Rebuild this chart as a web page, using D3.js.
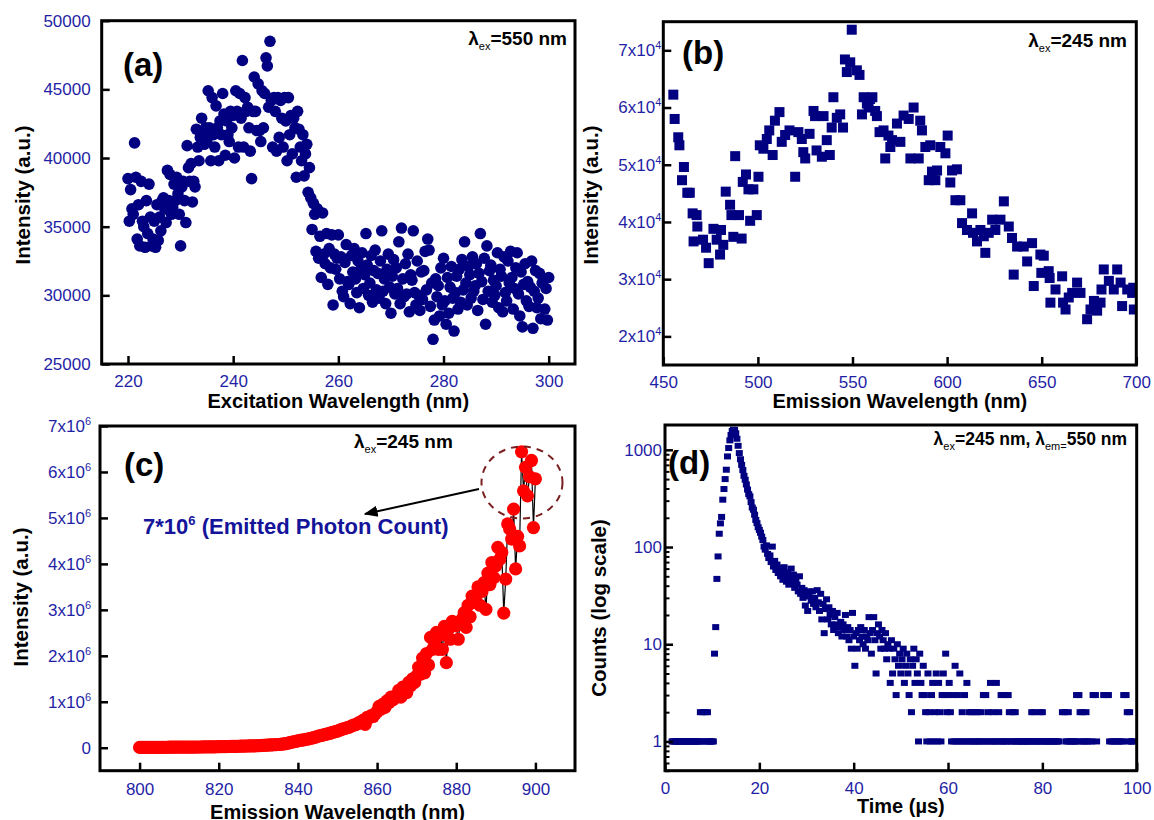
<!DOCTYPE html>
<html><head><meta charset="utf-8">
<script src="https://cdn.jsdelivr.net/npm/d3@7"></script>
<style>
body{margin:0;background:#fff}
svg{display:block}
text{font-family:"Liberation Sans",Arial,sans-serif}
</style>
</head><body>
<svg id="chart" width="1154" height="820"></svg>
<script>
// ---------------- DATA ----------------
// (a) excitation spectrum, 220–300 nm, 0.25 nm sampling
const aWavelength = d3.range(220, 300.001, 0.25);
const aIntensity = [
38500,35400,37700,36300, 35900,41100,38600,34100, 36600,33600,38300,35400, 35000,33500,36900,34500,
38100,35700,33600,34100, 35400,33500,36600,34000, 35700,34700,36900,37100, 36300,35300,39100,36900,
38800,35900,36400,38100, 36900,38600,37400,35900, 33600,37900,38300,36900, 35300,40900,39300,38300,
39600,36800,38300,37900, 42100,40800,39800,41500, 42900,41700,41000,42200, 41200,44900,42200,39800,
44400,41700,40800,43800, 42200,39800,42700,41700, 44700,43200,40200,42700, 41700,41200,43400,42200,
43100,40000,44900,43400, 40800,44700,42900,47100, 40800,44400,43400,43700, 42200,40500,38500,43400,
45900,43400,42000,45400, 42000,41200,44900,42200, 44700,47300,46700,43700, 48500,44200,40800,44400,
43400,40500,44400,41500, 44200,42900,40800,44400, 42700,39800,44400,41700, 43100,40300,42900,42200,
38600,43400,42100,40800, 39800,41700,38700,40300, 41000,37500,39300,37100, 34800,36700,35900,33200,
36300,32700,34300,31300, 36000,33000,32300,34500, 30800,33400,32000,34400, 29300,33000,31900,32700,
34400,31200,32800,30300, 29900,32400,33700,31000, 30800,29400,32900,31700, 33400,31200,30200,32500,
29100,31900,33100,30500, 31500,34500,32200,30000, 30900,32900,29500,31800, 33300,30400,31600,29800,
32500,34700,30300,31200, 29400,31900,33000,30600, 28700,31400,32600,30100, 32000,30500,33900,29400,
34900,31200,29900,32300, 30100,33000,28800,31500, 31100,34700,30200,29300, 32500,30000,28900,31700,
29700,31800,33200,30400, 34100,33300,29200,30900, 26800,28200,31200,29900, 30700,28500,32000,29300,
32700,29600,27900,31300, 28700,30600,32100,29800, 27400,30200,31400,29000, 31900,29500,32600,30400,
33900,30900,29300,32100, 31500,29800,32800,30300, 30700,32300,28900,31600, 34500,31000,29700,32700,
27900,33600,30300,31800, 32200,29500,31100,30000, 30700,33100,29100,31900, 31400,28800,32800,30200,
29600,32500,30900,33200, 31300,29000,30500,32000, 33100,30100,28500,31700, 27700,30800,32300,29600,
31000,29200,30600,32500, 27600,30300,31800,29100, 29800,31600,28300,30900, 31200,29000,30500,28200,
31300];
const aXTicks = [220, 240, 260, 280, 300];
const aYTicks = [25000, 30000, 35000, 40000, 45000, 50000];

// (b) emission spectrum [wavelength nm, intensity]
const bSpectrum = [
[455.3,62250],[456,58000],[457.9,54800],[458.5,53400],[459.9,47300],[460.9,49600],[462.7,45100],[464,45100],
[465.5,41500],[466,36600],[467.6,41200],[468,39200],[471,36900],[472.6,35500],[474,32800],[476.5,38800],
[478.2,36900],[480,34300],[480.5,38600],[481.7,36000],[483,45300],[485.3,43000],[486,41200],[487,37400],
[488,51500],[490,41200],[491.4,37100],[492,47000],[493.7,48300],[495,45700],[495.9,40200],[497.6,45700],
[499.4,41200],[500.3,47900],[501,53400],[502.9,52800],[504.7,54500],[506,56000],[507.8,51700],[509,57700],
[511.4,59200],[512.6,54000],[514.4,55200],[516.7,56000],[519.7,47900],[521.4,55700],[523.2,54500],[524,52200],
[525,51100],[527.3,55400],[529.4,59400],[530.2,58500],[531,52500],[533.8,51400],[534.7,58500],[536.4,54300],
[538,51700],[539,56500],[539.9,61800],[541.7,58200],[543.5,58800],[545,56500],[546,68400],[547,66200],
[548.8,67900],[549.6,73600],[552.3,66500],[553.7,65700],[555,58800],[555.9,61800],[557.6,60700],[558.5,60000],
[559.3,61500],[560.5,61800],[562,59400],[562.9,58500],[564.3,55700],[566.4,56000],[567.3,51100],[569,55100],
[570,53100],[570.9,54300],[573.5,57200],[575.3,54000],[577,58600],[579.7,58000],[580.6,51100],[582.3,60000],
[585,51100],[585.8,57700],[586.7,56000],[588.5,53100],[590.3,47300],[591.1,53400],[592,48800],[593.8,47300],
[594.7,49000],[596.4,53100],[599.1,52000],[600.3,55100],[601.7,46900],[602.6,49000],[604.4,43800],[605.2,49200],
[607,43800],[607.9,39800],[610.5,38600],[613.2,41500],[613.7,38100],[615.8,36600],[617.6,38600],[619.4,37500],
[620.2,34600],[622,38100],[623.8,40400],[625.5,38600],[628.2,40400],[630,43600],[632.6,39200],[634.3,37200],
[635.2,30800],[637,35700],[640.5,35700],[642.3,33100],[644.9,36300],[645.8,28800],[649.3,34300],[649.8,31100],
[651.1,34100],[653.7,31400],[654.2,30200],[654.6,25900],[657.3,28200],[660.8,30500],[661.3,25900],[662.6,24700],
[664.3,26800],[666.1,27600],[668.7,29400],[670.5,27600],[674,23000],[675.8,24700],[677.6,26200],[679.3,24500],
[681.1,25900],[681.6,28200],[682.8,31700],[685.5,29700],[688.1,28200],[689.9,31700],[691.7,29400],[692.5,25300],
[695.2,28200],[697.8,27600],[698.4,28500],[698.7,24700]];
const bXTicks = [450, 500, 550, 600, 650, 700];
const bYTicks = [20000, 30000, 40000, 50000, 60000, 70000];

// (c) emission 800–900 nm, 0.5 nm sampling, intensity in units of 10^6
const cWavelength = d3.range(800, 900.001, 0.5);
const cIntensity = [
0.006,0.006,0.007,0.007,0.007,0.008,0.008,0.008,0.008,0.009,
0.009,0.009,0.010,0.010,0.010,0.011,0.011,0.011,0.012,0.012,
0.012,0.012,0.013,0.013,0.014,0.014,0.014,0.015,0.015,0.016,
0.016,0.016,0.017,0.017,0.018,0.018,0.019,0.020,0.020,0.021,
0.022,0.023,0.024,0.025,0.026,0.027,0.028,0.029,0.030,0.031,
0.032,0.033,0.034,0.036,0.037,0.038,0.039,0.040,0.042,0.043,
0.045,0.047,0.050,0.052,0.055,0.057,0.060,0.062,0.065,0.068,
0.070,0.075,0.080,0.085,0.090,0.100,0.110,0.120,0.130,0.140,
0.150,0.160,0.165,0.170,0.180,0.190,0.200,0.210,0.220,0.230,
0.250,0.260,0.270,0.280,0.290,0.300,0.310,0.330,0.340,0.350,
0.360,0.380,0.400,0.410,0.420,0.440,0.450,0.470,0.490,0.500,
0.520,0.550,0.540,0.600,0.510,0.660,0.650,0.700,0.680,0.740,
0.780,0.900,0.840,0.950,0.880,1.020,0.980,1.100,1.040,1.120,
1.130,1.250,1.100,1.320,1.270,1.200,1.420,1.350,1.500,1.420,
1.560,1.750,1.600,1.950,1.630,2.050,1.800,2.400,2.140,2.300,
2.510,2.140,2.450,2.140,2.640,1.850,2.580,2.360,2.750,2.720,
2.650,2.360,2.700,2.800,2.940,2.620,3.100,2.850,3.300,3.160,
3.300,3.500,3.100,3.400,3.590,3.010,3.800,3.550,4.030,3.700,
3.960,4.360,4.100,4.250,2.930,3.670,4.870,4.760,4.540,5.190,
3.890,4.600,4.390,6.440,5.590,6.100,5.480,5.900,6.250,4.790,
5.850];
const cXTicks = [800, 820, 840, 860, 880, 900];
const cYTicks = [0, 1, 2, 3, 4, 5, 6, 7];

// (d) decay, 1.5–99.5 µs, 0.25 µs channels (0 = empty channel)
const dTime = d3.range(1.5, 99.51, 0.25);
const dCounts = [
1,1,
1,1,1,1, 1,1,1,1, 1,1,1,1, 1,1,1,1, 1,1,1,1, 1,1,2,1, 2,1,2,1, 2,1,1,1,
1,1,8,15, 47,80,137,175, 204,307,395,500, 624,855,1043,1250, 1420,1560,1610,1600,
1480,1300,1100,925, 800,700,620,540, 492,440,390,350, 332,290,255,242, 215,190,176,160,
150,140,128,118, 101,94,104,85, 77,82,70,101, 63,72,58,66, 54,61,50,57,
46,62,50,44, 55,41,48,60, 43,52,38,46, 41,35,50,33, 38,30,36,25,
34,22,31,35, 28,35,26,30, 24,36,27,22, 33,18,26,13, 23,29,18,24,
20,16,22,14, 19,16,21,13, 15,17,12,16, 14,20,12,15, 11,14,9,21,
12,6,13,9, 14,11,15,12, 10,14,9,12, 11,19,13,8, 14,19,11,5,
13,16,12,9, 14,11,9,13, 7,10,9,4, 11,5,9,7, 3,10,6,8,
5,7,9,4, 6,8,5,3, 7,2,6,9, 4,7,5,1, 8,4,3,6,
3,2,1,5, 2,1,3,4, 1,2,5,1, 4,2,1,3, 5,3,8,2,
3,4,2,1, 3,1,6,1, 3,1,5,1, 2,1,3,1, 4,1,2,1,
2,1,1,2, 1,2,1,1, 2,1,3,1, 3,1,2,1, 4,1,2,1,
1,4,1,2, 1,3,1,1, 3,1,1,3, 2,1,1,2, 1,2,1,1,
1,0,1,1, 1,1,0,1, 1,1,1,2, 1,2,1,1, 1,1,2,1,
2,1,1,1, 1,0,1,1, 1,1,0,1, 1,1,1,0, 0,2,0,2,
1,1,2,1, 1,0,1,1, 1,3,1,3, 2,1,2,1, 1,2,1,0,
1,0,1,3, 0,3,1,0, 0,0,0,0, 3,0,3,0, 3,1,0,1,
1,0,1,0, 1,1,0,1, 1,3,0,3, 2,1,2,1,
1,1,0];
const dXTicks = [0, 20, 40, 60, 80, 100];
const dYTicks = [1, 10, 100, 1000];

// ---------------- DRAWING ----------------
const TICK_COLOR = '#1f1fa6';
const NAVY = '#000080';
const svg = d3.select('#chart');
const defs = svg.append('defs');
defs.append('marker').attr('id','arrow').attr('viewBox','0 0 10 10').attr('refX',9).attr('refY',5)
  .attr('markerWidth',7).attr('markerHeight',7).attr('orient','auto-start-reverse')
  .append('path').attr('d','M0,1 L10,5 L0,9 z').attr('fill','#000');

const P = {
  a:{x0:101.7,x1:575,y0:20.7,y1:364},
  b:{x0:663.3,x1:1136.3,y0:21.7,y1:365},
  c:{x0:100,x1:575,y0:426,y1:770.7},
  d:{x0:665,x1:1136.7,y0:425,y1:770.7}
};

function clip(id, p){
  defs.append('clipPath').attr('id',id).append('rect')
    .attr('x',p.x0).attr('y',p.y0).attr('width',p.x1-p.x0).attr('height',p.y1-p.y0);
}
function styleAxis(g){
  g.select('.domain').remove();
  g.attr('color',TICK_COLOR).attr('font-size',17).attr('font-family','"Liberation Sans",Arial,sans-serif');
  g.selectAll('.tick line').attr('stroke','#000').attr('stroke-width',2.5);
}
function supLabels(g, fn){
  g.selectAll('.tick text').each(function(d){
    const t = d3.select(this); const r = fn(d);
    t.text(null);
    t.append('tspan').text(r[0]);
    if (r[1]) t.append('tspan').attr('dy',-7).attr('font-size',11).text(r[1]);
  });
}
function frame(p){
  svg.append('rect').attr('x',p.x0).attr('y',p.y0).attr('width',p.x1-p.x0).attr('height',p.y1-p.y0)
    .attr('fill','none').attr('stroke','#000').attr('stroke-width',3);
}
function xTitle(txt, x, y){
  svg.append('text').attr('x',x).attr('y',y).attr('text-anchor','middle')
    .attr('font-size',20).attr('font-weight','bold').attr('fill','#000').text(txt);
}
function yTitle(txt, x, y){
  svg.append('text').attr('transform',`translate(${x},${y}) rotate(-90)`).attr('text-anchor','middle')
    .attr('font-size',20.5).attr('font-weight','bold').attr('fill','#000').text(txt);
}
function panelLabel(txt, x, y){
  svg.append('text').attr('x',x).attr('y',y).attr('font-family','"Open Sans",sans-serif')
    .attr('font-size',33).attr('font-weight','bold').attr('fill','#000').text(txt);
}
function lambdaNote(x, y, anchor, size, parts){
  const t = svg.append('text').attr('x',x).attr('y',y).attr('text-anchor',anchor)
    .attr('font-size',size).attr('font-weight','bold').attr('fill','#000');
  let sub = false;
  parts.forEach(p => {
    const s = t.append('tspan').text(p[0]);
    if (p[1] && !sub){ s.attr('dy',5).attr('font-size',11).attr('font-weight','normal'); sub = true; }
    else if (!p[1] && sub){ s.attr('dy',-5); sub = false; }
  });
}

// ----- (a) -----
{
  const p = P.a;
  const x = d3.scaleLinear([215,305],[p.x0,p.x1]);
  const y = d3.scaleLinear([25000,50000],[p.y1,p.y0]);
  clip('clipA',p);
  svg.append('g').attr('clip-path','url(#clipA)').selectAll('circle').data(aIntensity).join('circle')
    .attr('cx',(d,i)=>x(aWavelength[i])).attr('cy',d=>y(d)).attr('r',5.8).attr('fill',NAVY);
  svg.append('g').attr('transform',`translate(0,${p.y1})`)
    .call(d3.axisBottom(x).tickValues(aXTicks).tickSize(-8).tickPadding(11)).call(styleAxis);
  svg.append('g').attr('transform',`translate(${p.x0},0)`)
    .call(d3.axisLeft(y).tickValues(aYTicks).tickSize(-8).tickPadding(11).tickFormat(d3.format('d'))).call(styleAxis);
  frame(p);
  xTitle('Excitation Wavelength (nm)', 338.3, 408);
  yTitle('Intensity (a.u.)', 30, 195);
  panelLabel('(a)', 123, 76);
  lambdaNote(567, 45, 'end', 19, [['λ',0],['ex',1],['=550 nm',0]]);
}

// ----- (b) -----
{
  const p = P.b;
  const x = d3.scaleLinear([450,700],[p.x0,p.x1]);
  const y = d3.scaleLinear([15000,75000],[p.y1,p.y0]);
  clip('clipB',p);
  svg.append('g').attr('clip-path','url(#clipB)').selectAll('rect').data(bSpectrum).join('rect')
    .attr('x',d=>x(d[0])-5).attr('y',d=>y(d[1])-5).attr('width',10).attr('height',10).attr('fill',NAVY);
  svg.append('g').attr('transform',`translate(0,${p.y1})`)
    .call(d3.axisBottom(x).tickValues(bXTicks).tickSize(-8).tickPadding(11)).call(styleAxis);
  const gy = svg.append('g').attr('transform',`translate(${p.x0},0)`)
    .call(d3.axisLeft(y).tickValues(bYTicks).tickSize(-8).tickPadding(2)).call(styleAxis);
  supLabels(gy, d => [(d/10000)+'x10','4']);
  frame(p);
  xTitle('Emission Wavelength (nm)', 899.8, 408);
  yTitle('Intensity (a.u.)', 598, 195);
  panelLabel('(b)', 682, 64);
  lambdaNote(1127, 46.5, 'end', 19, [['λ',0],['ex',1],['=245 nm',0]]);
}

// ----- (c) -----
{
  const p = P.c;
  const x = d3.scaleLinear([790,910],[p.x0,p.x1]);
  const y = d3.scaleLinear([-0.5,7],[p.y1,p.y0]);
  clip('clipC',p);
  const g = svg.append('g').attr('clip-path','url(#clipC)');
  g.append('path').datum(cIntensity)
    .attr('d', d3.line().x((d,i)=>x(cWavelength[i])).y(d=>y(d)))
    .attr('fill','none').attr('stroke','#000').attr('stroke-width',1.2);
  g.selectAll('circle').data(cIntensity).join('circle')
    .attr('cx',(d,i)=>x(cWavelength[i])).attr('cy',d=>y(d)).attr('r',6.6).attr('fill','#ff0000');
  svg.append('g').attr('transform',`translate(0,${p.y1})`)
    .call(d3.axisBottom(x).tickValues(cXTicks).tickSize(-8).tickPadding(12)).call(styleAxis);
  const gy = svg.append('g').attr('transform',`translate(${p.x0},0)`)
    .call(d3.axisLeft(y).tickValues(cYTicks).tickSize(-8).tickPadding(9)).call(styleAxis);
  supLabels(gy, d => d === 0 ? ['0',''] : [d+'x10','6']);
  frame(p);
  xTitle('Emission Wavelength (nm)', 337.5, 818.5);
  yTitle('Intensity (a.u.)', 28, 597);
  panelLabel('(c)', 124, 476);
  lambdaNote(354, 447.5, 'start', 19, [['λ',0],['ex',1],['=245 nm',0]]);
  // annotation
  const t = svg.append('text').attr('x',143).attr('y',534).attr('font-size',22).attr('font-weight','bold').attr('fill','#14149a');
  t.append('tspan').text('7*10');
  t.append('tspan').attr('dy',-9).attr('font-size',13).text('6');
  t.append('tspan').attr('dy',9).text(' (Emitted Photon Count)');
  svg.append('ellipse').attr('cx',522).attr('cy',482.5).attr('rx',40.5).attr('ry',36)
    .attr('fill','none').attr('stroke','#7a1f1f').attr('stroke-width',2).attr('stroke-dasharray','7,6');
  svg.append('line').attr('x1',479).attr('y1',489).attr('x2',365).attr('y2',514)
    .attr('stroke','#000').attr('stroke-width',2).attr('marker-end','url(#arrow)');
}

// ----- (d) -----
{
  const p = P.d;
  const x = d3.scaleLinear([0,100],[p.x0,p.x1]);
  const y = d3.scaleLog([0.5,1800],[p.y1,p.y0]);
  clip('clipD',p);
  const pts = dCounts.map((c,i)=>[dTime[i],c]).filter(d=>d[1]>0);
  svg.append('g').attr('clip-path','url(#clipD)').selectAll('rect').data(pts).join('rect')
    .attr('x',d=>x(d[0])-3.5).attr('y',d=>y(d[1])-3).attr('width',7).attr('height',6).attr('fill',NAVY);
  svg.append('g').attr('transform',`translate(0,${p.y1})`)
    .call(d3.axisBottom(x).tickValues(dXTicks).tickSize(-8).tickPadding(11)).call(styleAxis);
  const minor = y.ticks().filter(v => dYTicks.indexOf(v) < 0);
  svg.append('g').attr('transform',`translate(${p.x0},0)`)
    .call(d3.axisLeft(y).tickValues(minor).tickSize(-4.5).tickFormat('')).call(styleAxis)
    .selectAll('.tick line').attr('stroke-width',2);
  svg.append('g').attr('transform',`translate(${p.x0},0)`)
    .call(d3.axisLeft(y).tickValues(dYTicks).tickSize(-8).tickPadding(3).tickFormat(d3.format('d'))).call(styleAxis);
  frame(p);
  xTitle('Time (µs)', 900.8, 812.5);
  yTitle('Counts (log scale)', 606, 608);
  panelLabel('(d)', 668, 474);
  lambdaNote(1127, 445, 'end', 17.5, [['λ',0],['ex',1],['=245 nm, λ',0],['em=',1],['550 nm',0]]);
}
</script>
</body></html>
